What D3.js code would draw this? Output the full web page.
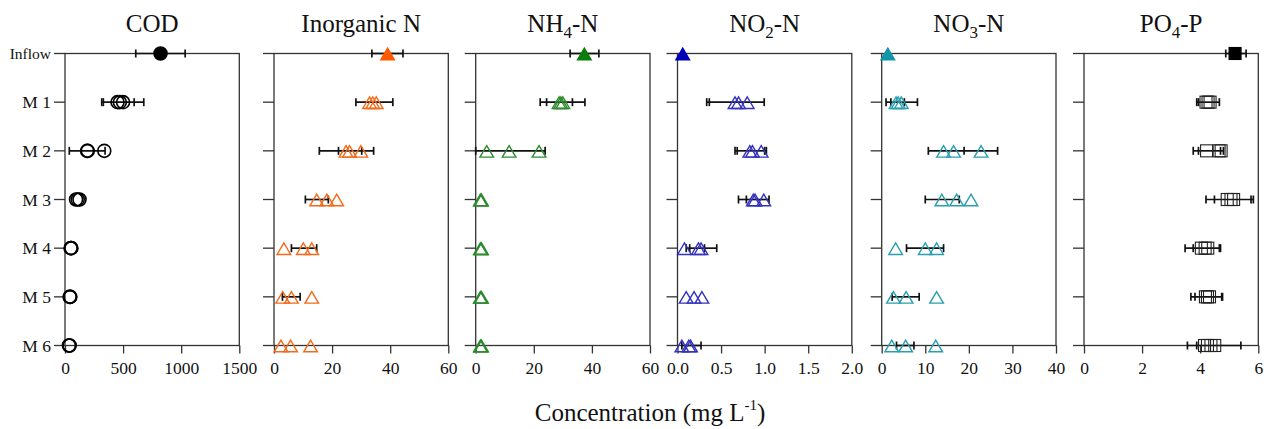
<!DOCTYPE html>
<html><head><meta charset="utf-8">
<script src="https://cdn.jsdelivr.net/npm/d3@7"></script>
<style>
body{margin:0;background:#fff}
svg{display:block}
</style>
</head><body>
<svg id="chart" width="1268" height="429" font-family="'Liberation Serif', 'Times New Roman', Tinos, 'DejaVu Serif', serif"></svg>
<script>
// ---------- data ----------
const rows = ["Inflow", "M 1", "M 2", "M 3", "M 4", "M 5", "M 6"];

const panelNames = ["COD", "Inorganic N", "NH4-N", "NO2-N", "NO3-N", "PO4-P"];
const panelDomains = [[0, 1500], [0, 60], [0, 60], [0, 2], [0, 40], [0, 6]];
const panelTicks = [[0, 500, 1000, 1500], [0, 20, 40, 60], [0, 20, 40, 60], [0, 0.5, 1, 1.5, 2], [0, 10, 20, 30, 40], [0, 2, 4, 6]];

// replicate values (per row), and error-bar cap positions (per row)
const codValues = [[822], [452, 472, 500], [190, 196, 338], [95, 110, 125], [48, 52, 55], [40, 43, 46], [34, 37, 40]];
const codBars = [[609, 1034], [316, 330, 595, 678], [37, 345], [], [], [], []];

const inorgNValues = [[39.1], [32.9, 34.0, 35.2], [24.8, 26.0, 29.9], [14.7, 18.2, 21.6], [3.4, 10.1, 13.0], [3.0, 6.0, 13.0], [2.4, 5.7, 12.6]];
const inorgNBars = [[33.7, 44.4], [28.2, 40.9], [15.6, 22.2, 30.2, 34.3], [10.8, 18.7], [6.0, 14.7], [2.9, 9.0], []];

const nh4Values = [[37.4], [28.7, 29.3, 30.0], [3.8, 11.5, 21.8], [1.6, 1.8, 2.0], [1.6, 1.8, 2.0], [1.6, 1.8, 2.0], [1.6, 1.8, 2.0]];
const nh4Bars = [[32.5, 42.4], [22.2, 24.4, 33.3, 37.6], [0, 23.9], [], [], [], []];

const no2Values = [[0.06], [0.66, 0.70, 0.80], [0.83, 0.86, 0.96], [0.87, 0.89, 0.99], [0.08, 0.24, 0.27], [0.10, 0.19, 0.28], [0.05, 0.13, 0.15]];
const no2Bars = [[], [0.335, 0.365, 0.995], [0.66, 0.685, 1.0, 1.02], [0.70, 0.79, 1.05], [0.10, 0.14, 0.31, 0.45], [], [0.05, 0.27]];

const no3Values = [[1.4], [3.3, 3.8, 4.5], [14.2, 16.5, 22.8], [13.8, 17.2, 20.5], [3.2, 10.0, 12.6], [2.7, 5.6, 12.6], [2.3, 5.5, 12.4]];
const no3Bars = [[], [1.0, 2.1, 5.2, 8.2], [10.7, 18.9, 26.6], [10.0, 17.8], [5.7, 14.2], [2.4, 8.6], [3.4, 7.4]];

const po4Values = [[5.2], [4.20, 4.27, 4.34], [4.22, 4.65, 4.72], [4.93, 5.06, 5.15], [4.04, 4.17, 4.26], [4.18, 4.25, 4.32], [4.15, 4.25, 4.37, 4.50]];
const po4Bars = [[4.88, 5.58], [3.88, 3.94, 4.66], [3.76, 3.94, 4.70, 4.80], [4.20, 4.49, 5.75, 5.83], [3.48, 3.76, 4.66, 4.70], [3.68, 3.82, 4.74, 4.77], [3.56, 3.88, 5.40]];

// ---------- styling / layout ----------
const FONT = "'Liberation Serif', 'Times New Roman', Tinos, 'DejaVu Serif', serif";
const panelLefts = [65, 274, 475.7, 677.5, 881.7, 1084];
const panelWidth = 174.3;
const plotTop = 53.5, plotBottom = 345.5;
const panelStyles = [
  {shape: "circle", color: "#000000", fill: "#000000"},
  {shape: "triangle", color: "#f26a1b", fill: "#ff5a00"},
  {shape: "triangle", color: "#2e8b2e", fill: "#0a7d0a"},
  {shape: "triangle", color: "#3333c0", fill: "#0000b8"},
  {shape: "triangle", color: "#2a9fb0", fill: "#1496aa"},
  {shape: "square", color: "#222222", fill: "#000000"}
];
const panelValues = [codValues, inorgNValues, nh4Values, no2Values, no3Values, po4Values];
const panelBars = [codBars, inorgNBars, nh4Bars, no2Bars, no3Bars, po4Bars];
const tickFormats = [d3.format("d"), d3.format("d"), d3.format("d"), d3.format(".1f"), d3.format("d"), d3.format("d")];

const svg = d3.select("#chart");
const y = d3.scalePoint().domain(rows).range([plotTop, plotBottom]);
const axisColor = "#333";

function titleParts(name) {
  const m = name.match(/^([A-Z]+)(\d)(-.*)$/);
  if (m) return [[m[1], false], [m[2], true], [m[3], false]];
  return [[name, false]];
}

panelNames.forEach((name, i) => {
  const left = panelLefts[i];
  const x = d3.scaleLinear().domain(panelDomains[i]).range([left, left + panelWidth]);
  const g = svg.append("g");
  const st = panelStyles[i];

  // frame
  g.append("rect").attr("x", left).attr("y", plotTop).attr("width", panelWidth).attr("height", plotBottom - plotTop)
    .attr("fill", "none").attr("stroke", axisColor).attr("stroke-width", 1.3);

  // y ticks (outward)
  g.selectAll(".yt").data(rows).join("line")
    .attr("x1", left - 11).attr("x2", left)
    .attr("y1", d => y(d)).attr("y2", d => y(d))
    .attr("stroke", axisColor).attr("stroke-width", 1.3);

  if (i === 0) {
    g.selectAll(".yl").data(rows).join("text")
      .attr("x", left - 14).attr("y", d => y(d))
      .attr("dy", "0.35em").attr("text-anchor", "end")
      .attr("font-family", FONT).attr("fill", "#111")
      .attr("font-size", d => d === "Inflow" ? 15.5 : 17.5)
      .text(d => d);
  }

  // x axis
  const xAxis = d3.axisBottom(x).tickValues(panelTicks[i]).tickSize(8).tickPadding(8).tickFormat(tickFormats[i]);
  const ax = g.append("g").attr("transform", `translate(0,${plotBottom})`).call(xAxis);
  ax.attr("font-family", FONT);
  ax.select(".domain").remove();
  ax.selectAll("line").attr("stroke", axisColor).attr("stroke-width", 1.3);
  ax.selectAll("text").attr("font-size", 17.5).attr("font-family", FONT).attr("fill", "#111");

  // title
  const t = g.append("text").attr("x", left + panelWidth / 2).attr("y", 32).attr("text-anchor", "middle")
    .attr("font-family", FONT).attr("font-size", 25).attr("fill", "#111");
  titleParts(name).forEach(([s, sub], k) => {
    const ts = t.append("tspan").text(s);
    if (sub) ts.attr("font-size", 17).attr("dy", 6);
    else if (k > 0) ts.attr("dy", -6);
  });

  // error bars
  rows.forEach((r, ri) => {
    const caps = panelBars[i][ri];
    if (!caps || caps.length < 2) return;
    const cy = y(r);
    const lo = d3.min(caps), hi = d3.max(caps);
    g.append("line").attr("x1", x(lo)).attr("x2", x(hi)).attr("y1", cy).attr("y2", cy)
      .attr("stroke", "#111").attr("stroke-width", 1.7);
    caps.forEach(c => {
      g.append("line").attr("x1", x(c)).attr("x2", x(c)).attr("y1", cy - 4).attr("y2", cy + 4)
        .attr("stroke", "#111").attr("stroke-width", 1.7);
    });
  });

  // markers
  rows.forEach((r, ri) => {
    const cy = y(r);
    const filled = ri === 0;
    panelValues[i][ri].forEach(v => {
      const cx = x(v);
      let m;
      if (st.shape === "circle") {
        m = g.append("circle").attr("cx", cx).attr("cy", cy).attr("r", 6.5);
      } else if (st.shape === "triangle") {
        const w = 6.8, h = 5.8;
        m = g.append("path").attr("d", `M${cx - w},${cy + h + 0.5}L${cx + w},${cy + h + 0.5}L${cx},${cy - h + 0.5}Z`);
      } else {
        const s = 6;
        m = g.append("rect").attr("x", cx - s).attr("y", cy - s).attr("width", 2 * s).attr("height", 2 * s);
      }
      m.attr("fill", filled ? st.fill : "none")
        .attr("stroke", filled ? st.fill : st.color)
        .attr("stroke-width", st.shape === "square" ? 1.1 : (st.shape === "circle" ? 1.6 : 1.4));
    });
  });
});

// global x-axis title
const xt = svg.append("text").attr("x", 650).attr("y", 421).attr("text-anchor", "middle")
  .attr("font-family", FONT).attr("font-size", 25).attr("fill", "#111");
xt.append("tspan").text("Concentration (mg L");
xt.append("tspan").text("-1").attr("font-size", 15).attr("dy", -11);
xt.append("tspan").text(")").attr("dy", 11);
</script>
</body></html>
